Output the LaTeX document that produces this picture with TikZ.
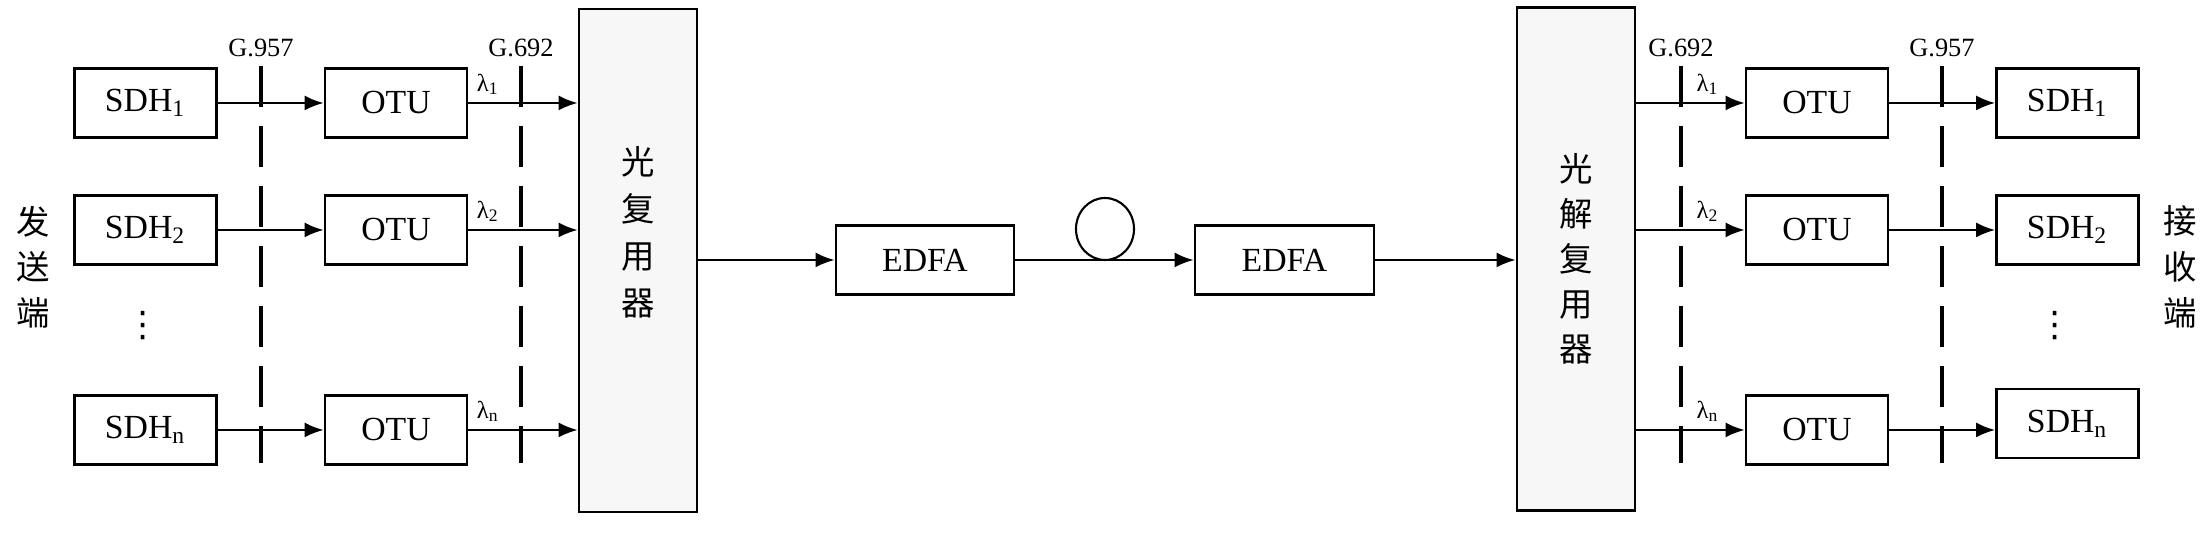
\documentclass[tikz,border=0pt]{standalone}
\usepackage{fontspec}
\setmainfont{Liberation Serif}
\newfontfamily\cjk{Noto Sans CJK SC}
\newfontfamily\symf{DejaVu Sans}
\usetikzlibrary{arrows.meta}
\usetikzlibrary{calc}
\usetikzlibrary{shapes.geometric}
\usetikzlibrary{positioning}
\tikzset{block/.style={draw=black, line width=0.8pt, minimum width=1.42cm,
    minimum height=0.69cm, inner sep=0pt, font=\fontsize{9.6}{11}\selectfont}}
\tikzset{bank/.style={draw=black, line width=0.8pt, fill=black!3,
    minimum width=1.18cm, minimum height=5.03cm, inner sep=0pt}}
\tikzset{arrow/.style={-{Latex[length=1.9mm,width=1.5mm]}, line width=0.6pt}}
\tikzset{iface/.style={line width=1.2pt, dash pattern=on 0.41cm off 0.19cm}}
\tikzset{std/.style={font=\fontsize{7.5}{9}\selectfont, inner sep=0pt}}
\tikzset{lam/.style={font=\fontsize{7}{8}\selectfont, inner sep=1pt}}
\tikzset{side/.style={font=\cjk\fontsize{9.5}{13}\selectfont, align=center, inner sep=0pt}}
\tikzset{more/.style={font=\symf\fontsize{10}{12}\selectfont, inner sep=0pt}}
\newcommand{\wl}[1]{λ\textsubscript{#1}}

\begin{document}
\begin{tikzpicture}
        \useasboundingbox (0,0) rectangle (22.02,5.35);

        % transmitting end
        \node[side] (tx) at (0.33,2.68) {发\\送\\端};
        \node[block] (sdhL1) at (1.455,4.32) {SDH\textsubscript{1}};
        \node[block] (sdhL2) at (1.455,3.05) {SDH\textsubscript{2}};
        \node[more] (dotsL) at (1.43,2.09) {⋮};
        \node[block] (sdhLn) at (1.455,1.05) {SDH\textsubscript{n}};
        \node[block] (otuL1) at (3.96,4.32) {OTU};
        \node[block] (otuL2) at (3.96,3.05) {OTU};
        \node[block] (otuLn) at (3.96,1.05) {OTU};
        \node[bank] (mux) at (6.38,2.745) {};
        \node[side, font=\cjk\fontsize{9.5}{13.4}\selectfont] (muxtext)
            at (6.38,3.03) {光\\复\\用\\器};

        \node[std] (g957L) at (2.61,4.87) {G.957};
        \node[std] (g692L) at (5.21,4.87) {G.692};
        \draw[iface] (2.61,4.69) -- (2.61,0.72);
        \draw[iface] (5.21,4.69) -- (5.21,0.72);

        \draw[arrow] (sdhL1) -- (otuL1);
        \draw[arrow] (sdhL2) -- (otuL2);
        \draw[arrow] (sdhLn) -- (otuLn);
        \draw[arrow] (otuL1) -- (otuL1 -| mux.west)
            node[lam, pos=0.18, above=1pt] {\wl{1}};
        \draw[arrow] (otuL2) -- (otuL2 -| mux.west)
            node[lam, pos=0.18, above=1pt] {\wl{2}};
        \draw[arrow] (otuLn) -- (otuLn -| mux.west)
            node[lam, pos=0.18, above=1pt] {\wl{n}};

        % line
        \node[block, minimum width=1.78cm] (edfa1) at (9.25,2.75) {EDFA};
        \node[draw, ellipse, line width=0.6pt, minimum width=0.58cm,
            minimum height=0.62cm, inner sep=0pt] (fiber) at (11.05,3.06) {};
        \node[block, minimum width=1.79cm] (edfa2) at (12.845,2.75) {EDFA};
        \node[bank, side, font=\cjk\fontsize{9.5}{12.8}\selectfont] (demux)
            at (15.76,2.76) {光\\解\\复\\用\\器};

        \draw[arrow] (mux.east |- edfa1) -- (edfa1);
        \draw[arrow] (edfa1) -- (edfa2);
        \draw[arrow] (edfa2) -- (edfa2 -| demux.west);

        % receiving end
        \node[block] (otuR1) at (18.17,4.32) {OTU};
        \node[block] (otuR2) at (18.17,3.05) {OTU};
        \node[block] (otuRn) at (18.17,1.05) {OTU};
        \node[block] (sdhR1) at (20.675,4.32) {SDH\textsubscript{1}};
        \node[block] (sdhR2) at (20.675,3.05) {SDH\textsubscript{2}};
        \node[more] (dotsR) at (20.55,2.09) {⋮};
        \node[block] (sdhRn) at (20.675,1.115) {SDH\textsubscript{n}};
        \node[side] (rx) at (21.80,2.68) {接\\收\\端};

        \node[std] (g692R) at (16.81,4.87) {G.692};
        \node[std] (g957R) at (19.42,4.87) {G.957};
        \draw[iface] (16.81,4.69) -- (16.81,0.72);
        \draw[iface] (19.42,4.69) -- (19.42,0.72);

        \draw[arrow] (demux.east |- otuR1) -- (otuR1)
            node[lam, pos=0.66, above=1pt] {\wl{1}};
        \draw[arrow] (demux.east |- otuR2) -- (otuR2)
            node[lam, pos=0.66, above=1pt] {\wl{2}};
        \draw[arrow] (demux.east |- otuRn) -- (otuRn)
            node[lam, pos=0.66, above=1pt] {\wl{n}};
        \draw[arrow] (otuR1) -- (sdhR1);
        \draw[arrow] (otuR2) -- (sdhR2);
        \draw[arrow] (otuRn) -- (otuRn -| sdhRn.west);
\end{tikzpicture}
\end{document}
